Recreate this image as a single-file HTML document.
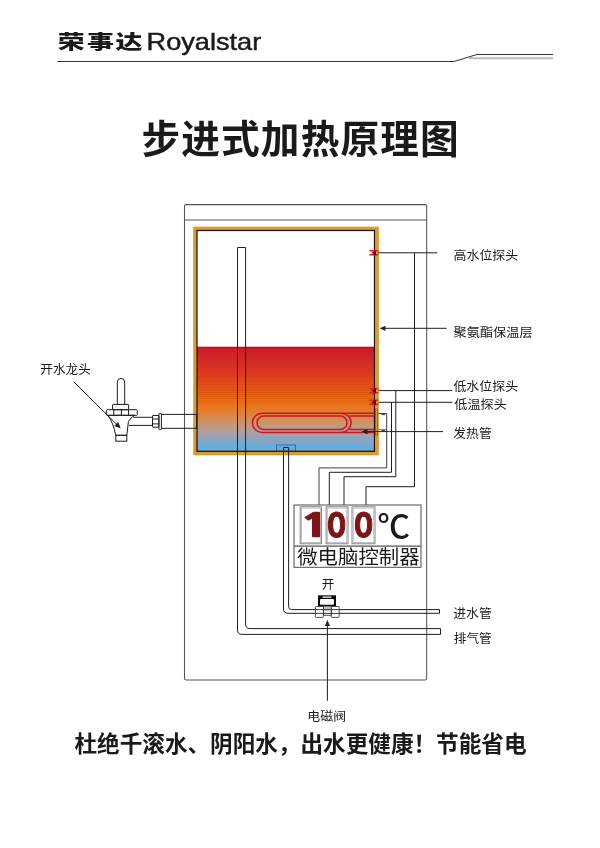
<!DOCTYPE html>
<html lang="zh-CN">
<head>
<meta charset="utf-8">
<title>步进式加热原理图</title>
<style>
html,body{margin:0;padding:0;background:#fff;}
body{width:600px;height:848px;overflow:hidden;font-family:"Liberation Sans","Noto Sans CJK SC",sans-serif;}
svg{display:block;will-change:transform;}
text{font-family:"Liberation Sans","Noto Sans CJK SC",sans-serif;fill:#1a1a1a;}
.lbl{font-size:12.5px;}
.ln{stroke:#1e1e1e;stroke-width:1;fill:none;}
.gl{stroke:#555;stroke-width:1.05;fill:none;}
</style>
</head>
<body>
<svg width="600" height="848" viewBox="0 0 600 848">
<defs>
<linearGradient id="water" x1="0" y1="0" x2="0" y2="1">
<stop offset="0" stop-color="#c91d2a"/>
<stop offset="0.06" stop-color="#d4242b"/>
<stop offset="0.25" stop-color="#e03a24"/>
<stop offset="0.5" stop-color="#f06c0c"/>
<stop offset="0.62" stop-color="#e8812e"/>
<stop offset="0.72" stop-color="#cf9465"/>
<stop offset="0.83" stop-color="#ab9fa5"/>
<stop offset="0.93" stop-color="#74a9d3"/>
<stop offset="1" stop-color="#56b0e6"/>
</linearGradient>
<pattern id="bands" x="0" y="347" width="8" height="2.05" patternUnits="userSpaceOnUse">
<rect x="0" y="0" width="8" height="0.9" fill="#8c1208" fill-opacity="0.15"/>
</pattern>
<linearGradient id="bandfade" x1="0" y1="0" x2="0" y2="1">
<stop offset="0" stop-color="#fff" stop-opacity="1"/>
<stop offset="0.45" stop-color="#fff" stop-opacity="0.9"/>
<stop offset="0.75" stop-color="#fff" stop-opacity="0"/>
</linearGradient>
<mask id="bandmask" maskUnits="userSpaceOnUse" x="197" y="347" width="178" height="105">
<rect x="197" y="347" width="178" height="105" fill="url(#bandfade)"/>
</mask>
</defs>
<rect width="600" height="848" fill="#fff"/>

<!-- header -->
<g id="header">
<g transform="translate(57.8,49.2) scale(1.42,1)"><text x="0 20.6 40.6" y="0" font-size="19" font-weight="900">荣事达</text></g>
<text x="146.6" y="50.3" font-size="23.4" font-weight="400" textLength="114.6" lengthAdjust="spacingAndGlyphs" stroke="#1a1a1a" stroke-width="0.45">Royalstar</text>
<path d="M469,58.3 H553" stroke="#bdbdbd" stroke-width="2" fill="none"/>
<path d="M57.5,61.5 H454 L477,54.5 H553" stroke="#333" stroke-width="1" fill="none"/>
</g>

<!-- title -->
<text x="141.5" y="152.5" font-size="38.7" font-weight="700" letter-spacing="1.1">步进式加热原理图</text>

<!-- cabinet -->
<g id="cabinet">
<path class="gl" d="M186,204.6 H425.2 Q426.7,204.6 426.7,206.1 V678.3 Q426.7,680 425,680 H186.2 Q184.5,680 184.5,678.3 V206.1 Q184.5,204.6 186,204.6 Z"/>
<path class="gl" d="M184.5,220 H426.7"/>
</g>

<!-- tank -->
<g id="tank">
<rect x="195" y="228.5" width="182" height="225" fill="none" stroke="#dd992c" stroke-width="3.6"/>
<rect x="197" y="347" width="177.6" height="104.3" fill="url(#water)"/>
<rect x="197" y="347" width="177.6" height="104.3" fill="url(#bands)" mask="url(#bandmask)"/>
<path d="M197,347.2 H374.6" stroke="#a3121e" stroke-width="0.9" fill="none"/>
<rect x="197" y="230.5" width="177.5" height="220.8" fill="none" stroke="#1a1008" stroke-width="1.25"/>
</g>

<!-- vent tube & pipes -->
<g id="pipes" class="ln">
<path d="M237.5,630 V247.5 H245.6 V624"/>
<path d="M237.5,630 Q237.5,634.4 242,634.4 H440.5 V628.6 H250 Q245.6,628.6 245.6,624"/>
<path d="M283.5,447.5 V609 Q283.5,613.3 288,613.3 H439.5 V609.6 H291.5 Q288.6,609.6 288.6,606.5 V447.5 Z" />
<rect x="276.5" y="445" width="19.2" height="6" stroke="#1d4a66" stroke-width="0.6"/>
</g>

<!-- heater element -->
<g id="heater" fill="none" stroke="#cc1226" stroke-width="1.5">
<path d="M374.5,413.2 H262 A9.6,9.6 0 0 0 262,432.4 H374.5"/>
<rect x="257" y="416.1" width="90" height="13.3" rx="6.65" ry="6.65"/>
<path d="M341.5,413.2 A9.6,9.6 0 0 1 341.5,432.4"/>
<path d="M349.5,416.1 H374.5 M349.5,429.4 H374.5"/>
</g>

<!-- probes -->
<g id="probes">
<path d="M369.3,250.8 H378.3 M369.3,254.8 H378.3" stroke="#e01d25" stroke-width="1.5" fill="none"/>
<path d="M371.2,252.8 L376,250.2 V255.4 Z" fill="#3f1712"/>
<path d="M369.3,388.7 H378.3 M369.3,392.7 H378.3" stroke="#e01d25" stroke-width="1.5" fill="none"/>
<path d="M371.2,390.7 L376,388.1 V393.3 Z" fill="#3f1712"/>
<path d="M369.3,400.3 H378.3 M369.3,404.3 H378.3" stroke="#e01d25" stroke-width="1.5" fill="none"/>
<path d="M371.2,402.3 L376,399.7 V404.9 Z" fill="#3f1712"/>
<rect x="375.3" y="409" width="2.3" height="26" fill="none" stroke="#5a3a10" stroke-width="0.5"/>
</g>

<!-- wires -->
<g id="wires" class="ln">
<path d="M378,252.8 H437.3"/>
<path d="M414.5,252.8 V486.7 H366 V505"/>
<path d="M378.6,390.6 H452.3"/>
<path d="M395.8,390.6 V476.7 H344 V505"/>
<path d="M378.6,402.3 H452.3"/>
<path d="M391.5,402.3 V472.3 H329.3 V505"/>
<path d="M378.6,413.5 H386.7 V467.9 H319 V505" stroke="#2a2a2a" stroke-width="0.9"/>
<path d="M378.6,429.6 H386.7" stroke="#444" stroke-width="0.7"/>
<path d="M381.5,414.6 h3.5 M381.5,430.6 h3.5" stroke="#333" stroke-width="1"/>
<path d="M443,431.6 H366"/>
<path d="M361.5,431.6 L367.5,429 V434.2 Z" fill="#2a1a1a" stroke="none"/>
<path d="M446.7,328.3 H384"/>
<path d="M379.7,328.3 L385.5,325.7 V330.9 Z" fill="#222" stroke="none"/>
</g>

<!-- right labels -->
<g id="labels" class="lbl">
<text x="453.5" y="259.9" textLength="64.8" lengthAdjust="spacingAndGlyphs">高水位探头</text>
<text x="453.5" y="336.8" textLength="79.2" lengthAdjust="spacingAndGlyphs">聚氨酯保温层</text>
<text x="453.4" y="391.1" textLength="64.8" lengthAdjust="spacingAndGlyphs">低水位探头</text>
<text x="454.3" y="409" textLength="52.5" lengthAdjust="spacingAndGlyphs">低温探头</text>
<text x="453.3" y="438" textLength="38.5" lengthAdjust="spacingAndGlyphs">发热管</text>
<text x="453.3" y="618" textLength="38.5" lengthAdjust="spacingAndGlyphs">进水管</text>
<text x="453.8" y="643.3" textLength="38" lengthAdjust="spacingAndGlyphs">排气管</text>
<text x="40.3" y="374.2" textLength="50.5" lengthAdjust="spacingAndGlyphs">开水龙头</text>
<text x="307.3" y="720.5" font-size="12" textLength="38.8" lengthAdjust="spacingAndGlyphs">电磁阀</text>
<text x="321.8" y="589.2" font-size="12.5">开</text>
</g>

<!-- controller -->
<g id="controller">
<rect class="gl" x="294" y="505" width="127" height="62.3"/>
<path class="gl" d="M294,546.1 H421"/>
<g fill="none" stroke="#7a7a7a" stroke-width="0.9">
<rect x="300.2" y="506.8" width="21.3" height="37"/>
<rect x="326.1" y="506.8" width="21.9" height="37"/>
<rect x="352" y="506.8" width="23" height="37"/>
</g>
<g fill="none" stroke="#b4b4b4" stroke-width="0.9">
<rect x="301.4" y="508" width="18.9" height="34.6"/>
<rect x="327.3" y="508" width="19.5" height="34.6"/>
<rect x="353.2" y="508" width="20.6" height="34.6"/>
</g>
<g font-size="32" font-weight="800" style="font-family:'NanumGothic','Liberation Sans',sans-serif;fill:#7b1519;stroke:#7b1519;stroke-width:1;stroke-linejoin:round">
<g transform="translate(330.6,537) scale(1.6,1)"><text x="0" y="0" text-anchor="end" style="fill:#7b1519;font-family:inherit;stroke-width:0.7">1</text></g>
<text x="336.2" y="537" text-anchor="middle" style="fill:#7b1519;font-family:inherit">0</text>
<text x="363.2" y="537" text-anchor="middle" style="fill:#7b1519;font-family:inherit">0</text>
</g>
<text x="377.6" y="538" font-size="32" font-weight="500" textLength="32.5" lengthAdjust="spacingAndGlyphs">℃</text>
<text x="297.2" y="564.3" font-size="19" textLength="122.5" lengthAdjust="spacingAndGlyphs">微电脑控制器</text>
</g>

<!-- valve -->
<g id="valve">
<rect x="318" y="595.3" width="18" height="10.9" fill="#0a0a0a"/>
<rect x="320" y="598.9" width="13.9" height="5.8" rx="1" fill="#fff"/>
<rect x="322.4" y="596.6" width="9.2" height="1.2" rx="0.6" fill="#fff"/>
<rect x="315.4" y="606.5" width="8" height="10.9" rx="0.8" fill="#fff" stroke="#222" stroke-width="0.8"/>
<rect x="331.2" y="606.5" width="8" height="10.9" rx="0.8" fill="#fff" stroke="#222" stroke-width="0.8"/>
<rect x="323.4" y="606.2" width="7.8" height="9" fill="#fff" stroke="#222" stroke-width="0.8"/>
<path d="M323.8,607.4 h7 M323.8,608.5 h7 M323.8,610.8 h7" stroke="#777" stroke-width="0.5"/>
<path d="M315.4,609.6 h23.8 M315.4,613.4 h23.8" stroke="#222" stroke-width="0.9"/>
<path d="M327.4,700.7 V624" class="ln"/>
<path d="M327.4,620 L324.8,626 H330 Z" fill="#222"/>
</g>

<!-- tap -->
<g id="tap" class="ln" fill="#fff">
<path d="M196.7,414.4 H161.4 M196.7,428.3 H161.4 M196.7,414.4 V428.3"/>
<rect x="158.9" y="413.4" width="2.5" height="16.1" rx="0.6"/>
<rect x="152.5" y="415.5" width="6.4" height="11.7" rx="0.6"/>
<path d="M152.5,419 h6.4 M152.5,423.9 h6.4"/>
<path d="M152.5,417.3 H133.5 M152.5,425.4 H128.8"/>
<path d="M117.3,404.4 V382.1 A3.7,3.7 0 0 1 124.7,382.1 V404.4"/>
<rect x="112.6" y="404.4" width="16" height="5.3" rx="0.6"/>
<rect x="106.4" y="409.7" width="30.9" height="5.6" rx="0.8"/>
<path d="M113.8,409.7 v5.6 M121.4,409.7 v5.6 M128.6,409.7 v5.6"/>
<path d="M107.9,415.3 Q113.2,422.5 115.8,435.3 H126.8 L128.4,421.6 Q130.5,417.5 134.8,415.3 Z"/>
<rect x="115.8" y="435.3" width="11" height="5.9"/>
<path d="M73.7,381.7 L117.5,425.2"/>
<path d="M120.8,428.4 L114.2,425.9 L118.2,421.9 Z" fill="#222" stroke="none"/>
</g>

<!-- bottom slogan -->
<text x="74.5" y="751.5" font-size="22.6" font-weight="700" textLength="452" lengthAdjust="spacing">杜绝千滚水、阴阳水，出水更健康！节能省电</text>

</svg>
</body>
</html>
